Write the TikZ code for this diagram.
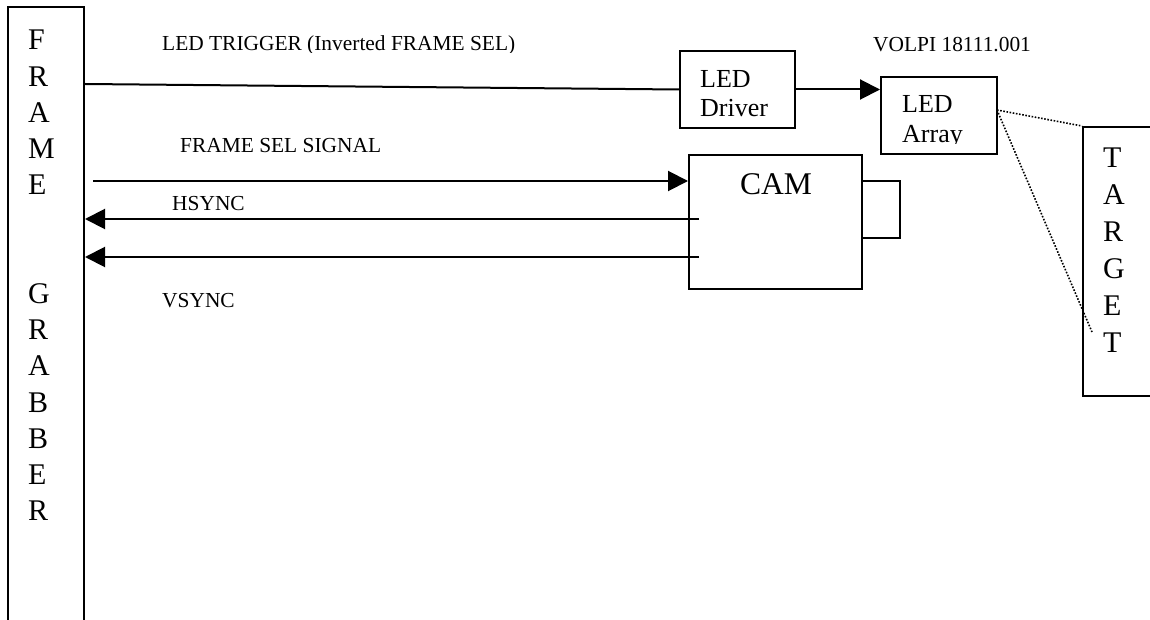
\documentclass[tikz,border=0pt]{standalone}
\usepackage{fontspec}
\setmainfont{Liberation Serif}
\usetikzlibrary{arrows.meta,calc}
\begin{document}
\begin{tikzpicture}[x=1pt,y=-1pt,
  box/.style={draw,line width=2pt,rectangle,inner sep=0pt},
  wire/.style={line width=2pt},
  arr/.style={wire,-{Triangle[length=20pt,width=20pt]}},
  lbl/.style={anchor=base west,inner sep=0pt,font=\fontsize{21.4}{25}\selectfont},
  big/.style={anchor=base west,inner sep=0pt,font=\fontsize{30}{36}\selectfont},
  boxtxt/.style={anchor=base west,inner sep=0pt,font=\fontsize{26}{29}\selectfont},
  dots/.style={line width=1.6pt,dash pattern=on 1.6pt off 1.6pt}]
\useasboundingbox (0,0) rectangle (1150,620);
% boxes
\node[box,minimum width=76.5pt,minimum height=640pt] (fg) at (45.75,327) {};
\node[box,minimum width=115pt,minimum height=77pt] (drv) at (737.5,89.5) {};
\node[box,minimum width=116pt,minimum height=77pt] (arr) at (939,115.5) {};
\node[box,minimum width=173pt,minimum height=134pt] (cam) at (775.5,222) {};
\node[box,minimum width=38pt,minimum height=57pt] (lens) at (881,209.5) {};
\node[box,minimum width=100pt,minimum height=269pt] (tgt) at (1133,261.5) {};
% vertical texts
\foreach \n/\ch in {1/F,2/R,3/A,4/M,5/E,8/G,9/R,10/A,11/B,12/B,13/E,14/R}
  \node[big] (fgl\n) at (28,{50+(\n-1)*36.2}) {\ch};
\foreach \n/\ch in {1/T,2/A,3/R,4/G,5/E,6/T}
  \node[big] (tl\n) at (1103,{168+(\n-1)*36.8}) {\ch};
% box texts
\node[boxtxt] (drvA) at (700,88) {LED};
\node[boxtxt] (drvB) at (700,117) {Driver};
\begin{scope}
  \clip (881,77) rectangle (997,143.5);
  \node[boxtxt] (arrA) at (902,113) {LED};
  \node[boxtxt] (arrB) at (902,143) {Array};
\end{scope}
\node[anchor=base,inner sep=0pt,font=\fontsize{31.6}{36}\selectfont] (camt) at (776,195) {CAM};
% labels
\begin{scope}
  \clip (150,20) rectangle (530,52.5);
  \node[lbl] (trigl) at (162,51) {LED TRIGGER (Inverted FRAME SEL)};
\end{scope}
\node[lbl] (volpi) at (873,52) {VOLPI 18111.001};
\node[lbl] (fsl) at (180,153) {FRAME SEL SIGNAL};
\node[lbl] (hsl) at (172,211) {HSYNC};
\node[lbl] (vsl) at (162,307) {VSYNC};
% connectors
\coordinate (y84) at (0,84);
\draw[wire] (fg.east |- y84) -- (drv.west);
\draw[arr] (drv.east) -- (arr.west |- drv.east);
\coordinate (fsS) at (93,181);
\draw[arr] (fsS) -- (cam.west |- fsS);
\coordinate (hsS) at (699,219);
\draw[arr] (hsS) -- (fg.east |- hsS);
\coordinate (vsS) at (699,257);
\draw[arr] (vsS) -- (fg.east |- vsS);
\coordinate (beam) at (997,110);
\coordinate (beamEnd) at (1092,332);
\draw[dots] (beam) -- (tgt.north west);
\draw[dots] (beam) -- (beamEnd);
\end{tikzpicture}
\end{document}
